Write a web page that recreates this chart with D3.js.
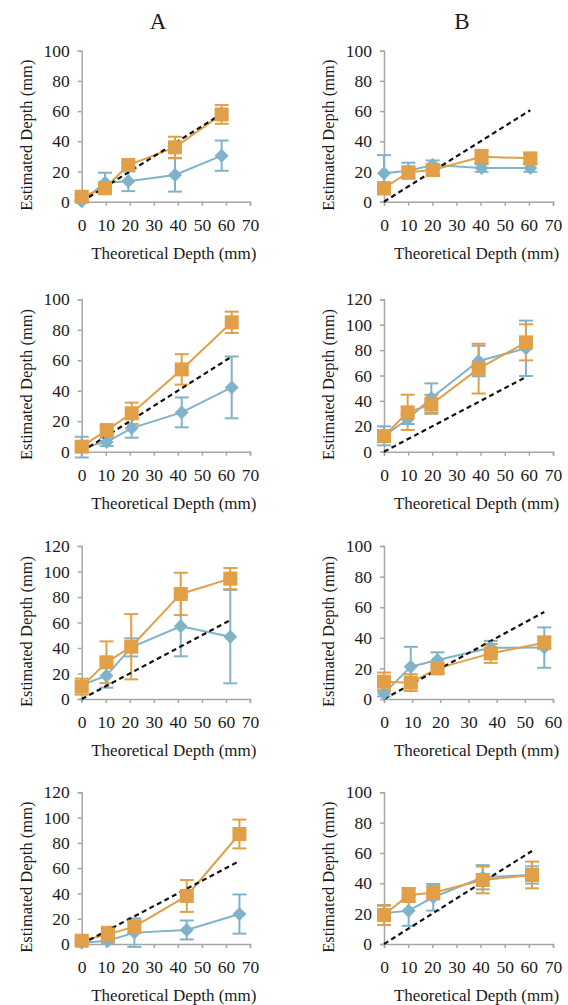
<!DOCTYPE html>
<html>
<head>
<meta charset="utf-8">
<title>Estimated vs theoretical depth</title>
<script src="https://cdn.jsdelivr.net/npm/d3@7/dist/d3.min.js"></script>
<style>
  body { margin: 0; background: #fff; }
  svg text { font-family: "Liberation Serif", "Times New Roman", serif; fill: #1a1a1a; }
</style>
</head>
<body>
<script>
// ---- data (mm) ----
// theoretical depths per panel
var xsA1 = [0, 9.7, 19.4, 38.8, 58.2];
var xsB1 = [0, 10.1, 20.2, 40.4, 60.6];
var xsA2 = [0, 10.4, 20.8, 41.6, 62.4];
var xsB2 = [0, 9.8, 19.6, 39.2, 58.8];
var xsA3 = [0, 10.3, 20.6, 41.2, 61.8];
var xsB3 = [0, 9.5, 19, 37.9, 56.9];
var xsA4 = [0, 10.9, 21.9, 43.7, 65.6];
var xsB4 = [0, 10.2, 20.4, 40.9, 61.3];

// blue (diamond) series: mean and error
var blueA1 = [0.3, 12.6, 13.5, 17.7, 30.5];
var blueErrA1 = [0.5, 6.6, 6.5, 11, 10];
var blueB1 = [18.8, 20.5, 24.3, 22.3, 22.3];
var blueErrB1 = [12, 5.3, 3, 2.5, 2.5];
var blueA2 = [3, 6.3, 15.5, 25.8, 42.2];
var blueErrA2 = [6.8, 2.6, 6.3, 9.8, 20.3];
var blueB2 = [12.5, 25.5, 42.3, 71.4, 81.4];
var blueErrB2 = [7.5, 3.7, 11.5, 12, 21.8];
var blueA3 = [11, 18.3, 40.5, 57, 48.9];
var blueErrA3 = [3, 9.4, 7.1, 23.5, 36.6];
var blueB3 = [3.7, 21.1, 25.5, 33.5, 33.6];
var blueErrB3 = [2, 13, 5, 4.5, 13.2];
var blueA4 = [1, 2.6, 9, 11.1, 23.7];
var blueErrA4 = [1, 2, 11.3, 7.5, 15.5];
var blueB4 = [20.2, 22, 30.8, 44, 45.5];
var blueErrB4 = [5, 10, 8.8, 8, 5.7];

// orange (square) series: mean and error
var orangeA1 = [3.3, 8.9, 24.3, 36, 57.8];
var orangeErrA1 = [1.5, 2, 2, 7, 6.2];
var orangeB1 = [8.9, 19.5, 21, 29.8, 28.7];
var orangeErrB1 = [4, 3.5, 3.5, 4.5, 3.5];
var orangeA2 = [3.3, 14.2, 25.2, 54, 84.9];
var orangeErrA2 = [2, 3, 7, 10, 7];
var orangeB2 = [12.3, 31, 37.3, 65.4, 86.1];
var orangeErrB2 = [4, 13.9, 7.5, 19.6, 14.2];
var orangeA3 = [9.7, 28.8, 41, 82.4, 94.4];
var orangeErrA3 = [6.3, 16.4, 25.6, 16.6, 8.3];
var orangeB3 = [11.3, 10.7, 20, 29.8, 36.8];
var orangeErrB3 = [6, 5.5, 3, 6.2, 4];
var orangeA4 = [2.6, 7.6, 13.7, 38, 87];
var orangeErrA4 = [2, 6, 5, 12.6, 11.4];
var orangeB4 = [19.1, 32.3, 33.8, 42.2, 45.5];
var orangeErrB4 = [6.6, 4.6, 4.4, 8.8, 8.8];

// axis maxima
var yMaxes = [100, 100, 100, 120, 120, 100, 120, 100];
var xMaxes = [70, 70, 70, 70, 70, 60, 70, 70];
var columnTitles = ["A", "B"];

// ---- layout ----
var width = 568, height = 1005;
var serif = "'Liberation Serif', 'Times New Roman', serif";
var cols = [[81.7, 250], [384, 553]];
var rows = [[50.7, 201.7], [299.3, 451.7], [546, 699], [792.3, 944]];
var blue = "#80b3c9", orange = "#e19f48", axisGrey = "#a6a6a6";

var panels = [
  {xs: xsA1, b: blueA1, be: blueErrA1, o: orangeA1, oe: orangeErrA1},
  {xs: xsB1, b: blueB1, be: blueErrB1, o: orangeB1, oe: orangeErrB1},
  {xs: xsA2, b: blueA2, be: blueErrA2, o: orangeA2, oe: orangeErrA2},
  {xs: xsB2, b: blueB2, be: blueErrB2, o: orangeB2, oe: orangeErrB2},
  {xs: xsA3, b: blueA3, be: blueErrA3, o: orangeA3, oe: orangeErrA3},
  {xs: xsB3, b: blueB3, be: blueErrB3, o: orangeB3, oe: orangeErrB3},
  {xs: xsA4, b: blueA4, be: blueErrA4, o: orangeA4, oe: orangeErrA4},
  {xs: xsB4, b: blueB4, be: blueErrB4, o: orangeB4, oe: orangeErrB4}
];

var svg = d3.select("body").append("svg")
  .attr("width", width)
  .attr("height", height);

svg.selectAll(".coltitle")
  .data(columnTitles)
  .enter().append("text")
  .attr("class", "coltitle")
  .attr("x", function(d, i) { return i === 0 ? 158 : 462; })
  .attr("y", 29)
  .attr("text-anchor", "middle")
  .style("font-family", serif)
  .style("font-size", "23px")
  .text(function(d) { return d; });

panels.forEach(function(p, i) {
  var c = cols[i % 2], r = rows[Math.floor(i / 2)];
  var x = d3.scaleLinear().domain([0, xMaxes[i]]).range(c);
  var y = d3.scaleLinear().domain([0, yMaxes[i]]).range([r[1], r[0]]);
  var g = svg.append("g");

  // axes
  var ya = g.append("g")
    .attr("transform", "translate(" + c[0] + ",0)")
    .call(d3.axisLeft(y).tickValues(d3.range(0, yMaxes[i] + 1, 20)).tickSize(4).tickPadding(8));
  var xa = g.append("g")
    .attr("transform", "translate(0," + r[1] + ")")
    .call(d3.axisBottom(x).tickValues(d3.range(0, xMaxes[i] + 1, 10)).tickSize(4).tickPadding(13));
  [ya, xa].forEach(function(a) {
    a.attr("font-family", null).attr("font-size", null);
    a.select(".domain").attr("stroke", axisGrey).attr("stroke-width", 1.5);
    a.selectAll(".tick line").attr("stroke", axisGrey).attr("stroke-width", 1.5);
    a.selectAll(".tick text")
      .style("font-family", serif)
      .style("font-size", "17.5px")
      .attr("fill", "#1a1a1a");
  });

  g.append("text")
    .attr("transform", "translate(" + (c[0] - 50) + "," + ((r[0] + r[1]) / 2 + 9) + ") rotate(-90)")
    .attr("text-anchor", "middle")
    .style("font-family", serif)
    .style("font-size", "16.5px")
    .text("Estimated Depth (mm)");
  g.append("text")
    .attr("x", (c[0] + c[1]) / 2 + 8)
    .attr("y", r[1] + 57)
    .attr("text-anchor", "middle")
    .style("font-family", serif)
    .style("font-size", "17px")
    .text("Theoretical Depth (mm)");

  var line = d3.line().x(function(d) { return x(d[0]); }).y(function(d) { return y(d[1]); });

  function series(vals, errs, col) {
    var pts = p.xs.map(function(v, k) { return [v, vals[k], errs[k]]; });
    g.append("path")
      .attr("d", line(pts))
      .attr("fill", "none")
      .attr("stroke", col)
      .attr("stroke-width", 2);
    var eb = g.selectAll(null).data(pts).enter().append("g").attr("stroke", col).attr("stroke-width", 2);
    eb.append("line")
      .attr("x1", function(d) { return x(d[0]); })
      .attr("x2", function(d) { return x(d[0]); })
      .attr("y1", function(d) { return y(d[1] - d[2]); })
      .attr("y2", function(d) { return y(d[1] + d[2]); });
    [-1, 1].forEach(function(s) {
      eb.append("line")
        .attr("x1", function(d) { return x(d[0]) - 7; })
        .attr("x2", function(d) { return x(d[0]) + 7; })
        .attr("y1", function(d) { return y(d[1] + s * d[2]); })
        .attr("y2", function(d) { return y(d[1] + s * d[2]); });
    });
    return pts;
  }

  var bp = series(p.b, p.be, blue);
  var op = series(p.o, p.oe, orange);

  // identity line
  var last = p.xs[p.xs.length - 1];
  g.append("path")
    .attr("d", line([[0, 0], [last, last]]))
    .attr("stroke", "#111")
    .attr("stroke-width", 2.2)
    .attr("stroke-dasharray", "5,3.5")
    .attr("fill", "none");

  g.selectAll(null).data(bp).enter().append("path")
    .attr("transform", function(d) { return "translate(" + x(d[0]) + "," + y(d[1]) + ")"; })
    .attr("d", "M0,-7L7,0L0,7L-7,0Z")
    .attr("fill", blue);
  g.selectAll(null).data(op).enter().append("rect")
    .attr("x", function(d) { return x(d[0]) - 7; })
    .attr("y", function(d) { return y(d[1]) - 7; })
    .attr("width", 14)
    .attr("height", 14)
    .attr("fill", orange);
});
</script>
</body>
</html>
